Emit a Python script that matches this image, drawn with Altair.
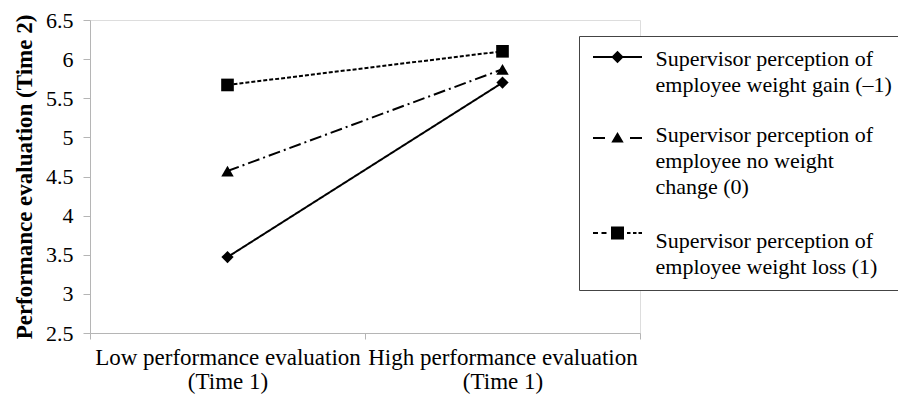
import altair as alt
import pandas as pd

# ---- data ----
times = ["Low performance evaluation|(Time 1)", "High performance evaluation|(Time 1)"]
series = [
    "Supervisor perception of|employee weight gain (–1)",
    "Supervisor perception of|employee no weight|change (0)",
    "Supervisor perception of|employee weight loss (1)",
]
weight_gain = [3.47, 5.70]
no_change = [4.57, 5.87]
weight_loss = [5.67, 6.10]
y_ticks = [2.5, 3, 3.5, 4, 4.5, 5, 5.5, 6, 6.5]

rows = []
for s, vals in zip(series, [weight_gain, no_change, weight_loss]):
    for t, v in zip(times, vals):
        rows.append({"time": t, "series": s, "value": v})
df = pd.DataFrame(rows)

FONT = "Liberation Serif"
GRAY = "#b5b5b5"

x_enc = alt.X(
    "time:N",
    sort=times,
    scale=alt.Scale(type="band", domain=times, paddingInner=0, paddingOuter=0),
    axis=alt.Axis(
        title=None,
        labelExpr="split(datum.label, '|')",
        labelAngle=0,
        tickBand="extent",
        tickSize=6,
        tickColor=GRAY,
        domainColor=GRAY,
        labelFont=FONT,
        labelFontSize=23,
        labelColor="black",
        labelLineHeight=24,
        labelPadding=7,
        labelLimit=1000,
        grid=False,
    ),
)
y_enc = alt.Y(
    "value:Q",
    scale=alt.Scale(domain=[2.5, 6.5], nice=False, zero=False),
    axis=alt.Axis(
        title="Performance evaluation (Time 2)",
        values=y_ticks,
        format="~g",
        tickSize=7,
        tickColor=GRAY,
        domainColor=GRAY,
        labelFont=FONT,
        labelFontSize=22,
        labelColor="black",
        labelPadding=10,
        titleFont=FONT,
        titleFontSize=23,
        titleFontWeight="bold",
        titleColor="black",
        titlePadding=9,
        grid=False,
    ),
)

base = alt.Chart(df)

lines = base.mark_line(color="black", strokeWidth=2).encode(
    x=x_enc,
    y=y_enc,
    detail="series:N",
    strokeDash=alt.StrokeDash(
        "series:N",
        scale=alt.Scale(domain=series, range=[[1, 0], [12, 4, 2, 4], [4, 2]]),
        legend=None,
    ),
)

points = base.mark_point(filled=True, color="black", opacity=1).encode(
    x=x_enc,
    y=y_enc,
    shape=alt.Shape(
        "series:N",
        scale=alt.Scale(domain=series, range=["diamond", "triangle-up", "square"]),
        legend=None,
    ),
    size=alt.Size(
        "series:N",
        scale=alt.Scale(domain=series, range=[150, 160, 180]),
        legend=None,
    ),
)

# legend glyphs: line segment(s) + marker, drawn as filled shapes (1 unit = 10 px)
legend_paths = [
    "M-2.45,-0.3H-0.5V-0.1H-2.45ZM0.5,-0.3H2.45V-0.1H0.5ZM0,-0.82L0.62,-0.2L0,0.42L-0.62,-0.2Z",
    "M-2.45,0.2H-1.25V0.4H-2.45ZM1.25,0.2H2.45V0.4H1.25ZM0,-0.3L0.62,0.75L-0.62,0.75Z",
    "M-2.45,-0.9H-1.95V-0.7H-2.45ZM-1.6,-0.9H-1.1V-0.7H-1.6Z"
    "M-0.65,-1.45H0.65V-0.15H-0.65Z"
    "M0.95,-0.9H1.3V-0.7H0.95ZM1.55,-0.9H1.9V-0.7H1.55ZM2.1,-0.9H2.45V-0.7H2.1Z",
]

legend_layer = base.transform_filter("false").mark_point(
    filled=True, color="black", opacity=1
).encode(
    x=x_enc,
    y=y_enc,
    shape=alt.Shape(
        "series:N",
        scale=alt.Scale(domain=series, range=legend_paths),
        legend=alt.Legend(
            title=None,
            orient="none",
            legendX=489,
            legendY=16,
            labelExpr="split(datum.label, '|')",
            labelFont=FONT,
            labelFontSize=22,
            labelColor="black",
            labelLimit=600,
            labelOffset=27,
            symbolSize=400,
            symbolOffset=15.5,
            symbolStrokeWidth=0,
            symbolFillColor="black",
            strokeColor="#444444",
            fillColor="white",
            padding=12,
            rowPadding=28,
        ),
    ),
)

chart = (
    alt.layer(lines, points, legend_layer)
    .resolve_scale(shape="independent")
    .resolve_legend(shape="independent")
    .properties(
        width=550,
        height=313,
        autosize=alt.AutoSizeParams(type="none"),
        padding={"left": 82, "top": 12, "right": 258, "bottom": 61},
    )
    .configure_view(stroke=None)
    .configure(background="white", style={"guide-label": {"lineHeight": 26}})
)

chart.save("out.html", embed_options={"renderer": "svg", "actions": False})
